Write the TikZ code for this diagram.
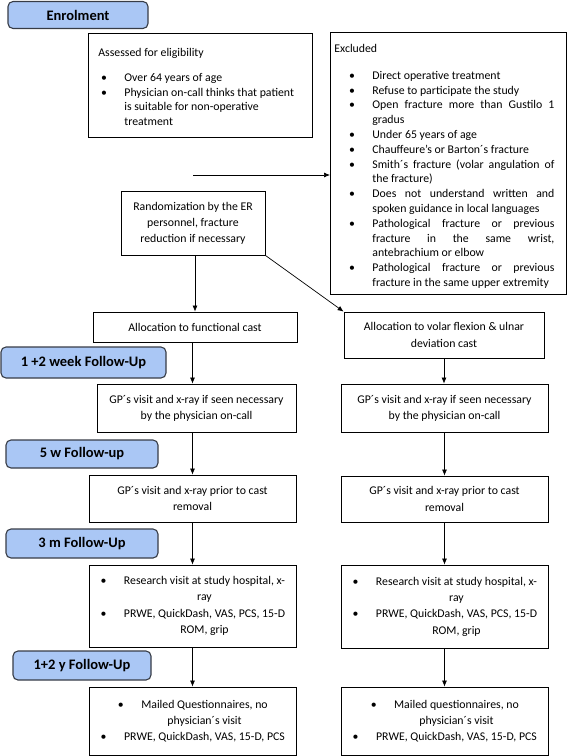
\documentclass[tikz,border=0pt]{standalone}
\usepackage{fontspec}
\setmainfont{Carlito}
\usetikzlibrary{arrows.meta,calc}
\definecolor{headfill}{RGB}{170,199,245}
\definecolor{headdraw}{RGB}{55,60,70}
\newcommand{\bodyfnt}{\fontsize{11.8}{16.3}\selectfont}
\newcommand{\listfnt}{\fontsize{11.8}{14.8}\selectfont}
\newcommand{\headfnt}{\fontsize{14.5}{17}\selectfont\bfseries}
\newcommand{\bul}{\leavevmode\llap{\textbullet\hspace{17.5pt}}}
\newcommand{\ind}{\hspace*{24pt}}
\begin{document}
\begin{tikzpicture}[x=1pt,y=-1pt,
  box/.style={draw=black, line width=0.8pt, inner sep=0pt, align=center, font=\bodyfnt},
  head/.style={draw=headdraw, fill=headfill, line width=1.1pt, rounded corners=5pt, inner sep=0pt, font=\headfnt},
  arr/.style={-{Latex[length=6pt,width=5pt]}, line width=0.7pt}]
\useasboundingbox (0,0) rectangle (568,756);

% phase headers
\node[head, minimum width=140pt, minimum height=27pt] (hEnr) at (78,15) {Enrolment};
\node[head, minimum width=165pt, minimum height=31pt] (hW) at (83.5,362.5) {1 +2 week Follow-Up};
\node[head, minimum width=152pt, minimum height=28pt] (h5) at (82,454) {5 w Follow-up};
\node[head, minimum width=152pt, minimum height=29pt] (h3) at (82,543.5) {3 m Follow-Up};
\node[head, minimum width=138pt, minimum height=29pt] (hY) at (82,665.5) {1+2 y Follow-Up};

% eligibility
\node[box, anchor=north west, align=left, font=\listfnt] (elig) at (88,33) {%
\begin{minipage}[t][104pt][t]{224pt}\raggedright\parskip=0pt
\rule{0pt}{23pt}\hspace*{10pt}Assessed for eligibility\par
\vspace{10pt}
\leftskip=36pt
\bul Over 64 years of age\par
\bul Physician on-call thinks that patient\newline is suitable for non-operative\newline treatment\par
\end{minipage}};

% excluded
\node[box, anchor=north west, align=left, font=\listfnt] (excl) at (330,32) {%
\begin{minipage}[t][262pt][t]{236pt}\parskip=0pt
\tolerance=10000
\rule{0pt}{20pt}\hspace*{4pt}Excluded\par
\vspace{12pt}
\leftskip=42pt \rightskip=12pt
\bul Direct operative treatment\par
\bul Refuse to participate the study\par
\bul Open fracture more than Gustilo 1\linebreak gradus\par
\bul Under 65 years of age\par
\bul Chauffeure’s or Barton´s fracture\par
\bul Smith´s fracture (volar angulation of\linebreak the fracture)\par
\bul Does not understand written and\linebreak spoken guidance in local languages\par
\bul Pathological fracture or previous\linebreak fracture in the same wrist,\linebreak antebrachium or elbow\par
\bul Pathological fracture or previous\linebreak fracture in the same upper extremity\par
\end{minipage}};

% randomization and allocation
\node[box, minimum width=144pt, minimum height=64pt, font=\fontsize{11.8}{16}\selectfont] (rand) at (193,223)
  {Randomization by the ER\\personnel, fracture\\reduction if necessary};
\node[box, minimum width=204pt, minimum height=30pt] (funcL) at (195,327) {Allocation to functional cast};
\node[box, minimum width=200pt, minimum height=46pt] (volR) at (444,335) {Allocation to volar flexion \& ulnar\\deviation cast};

% 1+2 week
\node[box, minimum width=199pt, minimum height=48pt] (gpL) at (196.5,408) {GP´s visit and x-ray if seen necessary\\by the physician on-call};
\node[box, minimum width=207pt, minimum height=48pt] (gpR) at (444.5,408) {GP´s visit and x-ray if seen necessary\\by the physician on-call};

% 5 w
\node[box, minimum width=207pt, minimum height=47pt] (prL) at (192.5,498.5) {GP´s visit and x-ray prior to cast\\removal};
\node[box, minimum width=207pt, minimum height=46pt] (prR) at (444.5,499) {GP´s visit and x-ray prior to cast\\removal};

% 3 m
\node[box, minimum width=207pt, minimum height=82pt] (resL) at (192.5,606) {%
\ind\bul Research visit at study hospital, x-\\
\ind ray\\
\ind\bul PRWE, QuickDash, VAS, PCS, 15-D\\
\ind ROM, grip};
\node[box, minimum width=207pt, minimum height=83pt] (resR) at (444.5,606.5) {%
\ind\bul Research visit at study hospital, x-\\
\ind ray\\
\ind\bul PRWE, QuickDash, VAS, PCS, 15-D\\
\ind ROM, grip};

% 1+2 y
\node[box, minimum width=207pt, minimum height=68pt] (mailL) at (192.5,721) {%
\ind\bul Mailed Questionnaires, no\\
\ind physician´s visit\\
\ind\bul PRWE, QuickDash, VAS, 15-D, PCS};
\node[box, minimum width=207pt, minimum height=68pt] (mailR) at (444.5,721) {%
\ind\bul Mailed questionnaires, no\\
\ind physician´s visit\\
\ind\bul PRWE, QuickDash, VAS, 15-D, PCS};

% connectors
\coordinate (exS) at (193,175);
\draw[arr] (exS) -- (exS -| excl.west);
\draw[arr] (funcL.north |- rand.south) -- (funcL.north);
\draw[arr] (rand.south east) -- (volR.north west);
\draw[arr] (prL.north |- funcL.south) -- (prL.north |- gpL.north);
\draw[arr] (prL.north |- gpL.south) -- (prL.north);
\draw[arr] (prL.south) -- (resL.north);
\draw[arr] (resL.south) -- (mailL.north);
\draw[arr] (volR.south) -- (volR.south |- gpR.north);
\draw[arr] (gpR.south) -- (prR.north);
\draw[arr] (prR.south) -- (resR.north);
\draw[arr] (resR.south) -- (mailR.north);
\end{tikzpicture}
\end{document}
